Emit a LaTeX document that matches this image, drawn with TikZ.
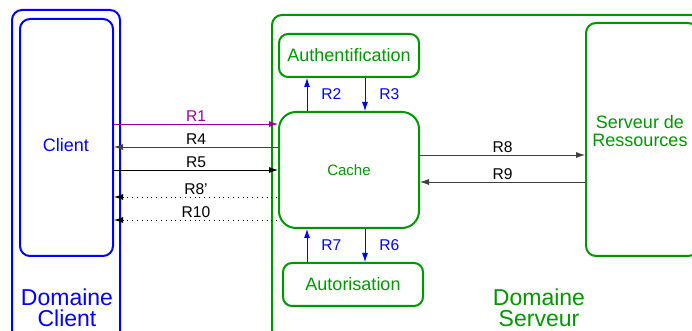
\documentclass[tikz,border=0pt]{standalone}
\usepackage{fontspec}
\setmainfont{Liberation Sans}
\usetikzlibrary{positioning,arrows.meta}
\definecolor{clientblue}{RGB}{0,0,255}
\definecolor{servgreen}{RGB}{0,150,0}
\definecolor{reqpurple}{RGB}{153,0,153}

\begin{document}
\begin{tikzpicture}[x=0.5pt, y=-0.5pt,
		>={Latex[length=4.5pt,width=3pt]},
		domnode/.style={rectangle, rounded corners=5pt, line width=1pt, inner sep=0pt},
		srvnode/.style={rectangle, rounded corners=4.5pt, draw=servgreen, line width=1pt, inner sep=0pt, text=servgreen, font=\fontsize{9}{9}\selectfont},
		lbl/.style={font=\fontsize{7.8}{8}\selectfont, inner sep=1pt},
		domlbl/.style={align=center, font=\fontsize{11.5}{10.5}\selectfont},
	]
		\useasboundingbox (0,0) rectangle (692,331);

		% domaines
		\node[domnode, draw=clientblue, minimum width=54pt, minimum height=190pt] (domclient) at (66,200) {};
		\node[domnode, draw=servgreen, minimum width=224pt, minimum height=187.5pt] (domserveur) at (496,202.5) {};

		% nodes
		\node[domnode, draw=clientblue, minimum width=46.5pt, minimum height=118.5pt] (client) at (66.5,137.5) {};
		\node[text=clientblue, font=\fontsize{9}{9}\selectfont] (clienttxt) at (66,145) {Client};
		\node[srvnode, minimum width=70pt, minimum height=21.5pt] (auth) at (349,55.5) {Authentification};
		\node[srvnode, rounded corners=8.5pt, minimum width=70pt, minimum height=58pt, font=\fontsize{7.5}{8}\selectfont] (cache) at (349,170) {Cache};
		\node[srvnode, minimum width=70pt, minimum height=21.5pt] (autor) at (353,284.5) {Autorisation};
		\node[srvnode, rounded corners=5pt, minimum width=56pt, minimum height=116.5pt] (ressources) at (642,139.5) {};
		\node[align=center, text=servgreen, font=\fontsize{9}{9}\selectfont] (resstxt) at (640,131) {Serveur de\\Ressources};

		\node[domlbl, text=clientblue] (domclienttxt) at (67,308) {Domaine\\Client};
		\node[domlbl, text=servgreen] (domserveurtxt) at (539,308) {Domaine\\Serveur};

		% lines
		\draw[reqpurple, ->] (client.east |- 0,124) -- node[lbl, above] {R1} (cache.west |- 0,124);
		\draw[black!75, <-] (client.east |- 0,147) -- node[lbl, above, text=black] {R4} (cache.west |- 0,147);
		\draw[->] (client.east |- 0,170) -- node[lbl, above] {R5} (cache.west |- 0,170);
		\draw[dotted, <-] (client.east |- 0,197) -- node[lbl, above] {R8'} (cache.west |- 0,197);
		\draw[dotted, <-] (client.east |- 0,220) -- node[lbl, above] {R10} (cache.west |- 0,220);

		\draw[clientblue, ->] (cache.north -| 307,0) -- node[lbl, right=6pt] {R2} (auth.south -| 307,0);
		\draw[clientblue, ->] (auth.south -| 365,0) -- node[lbl, right=6pt] {R3} (cache.north -| 365,0);
		\draw[clientblue, ->] (autor.north -| 307,0) -- node[lbl, right=6pt] {R7} (cache.south -| 307,0);
		\draw[clientblue, ->] (cache.south -| 365,0) -- node[lbl, right=6pt] {R6} (autor.north -| 365,0);

		\draw[black!75, ->] (cache.east |- 0,155) -- node[lbl, above, text=black] {R8} (ressources.west |- 0,155);
		\draw[black!75, <-] (cache.east |- 0,182) -- node[lbl, above, text=black] {R9} (ressources.west |- 0,182);
	\end{tikzpicture}
\end{document}
